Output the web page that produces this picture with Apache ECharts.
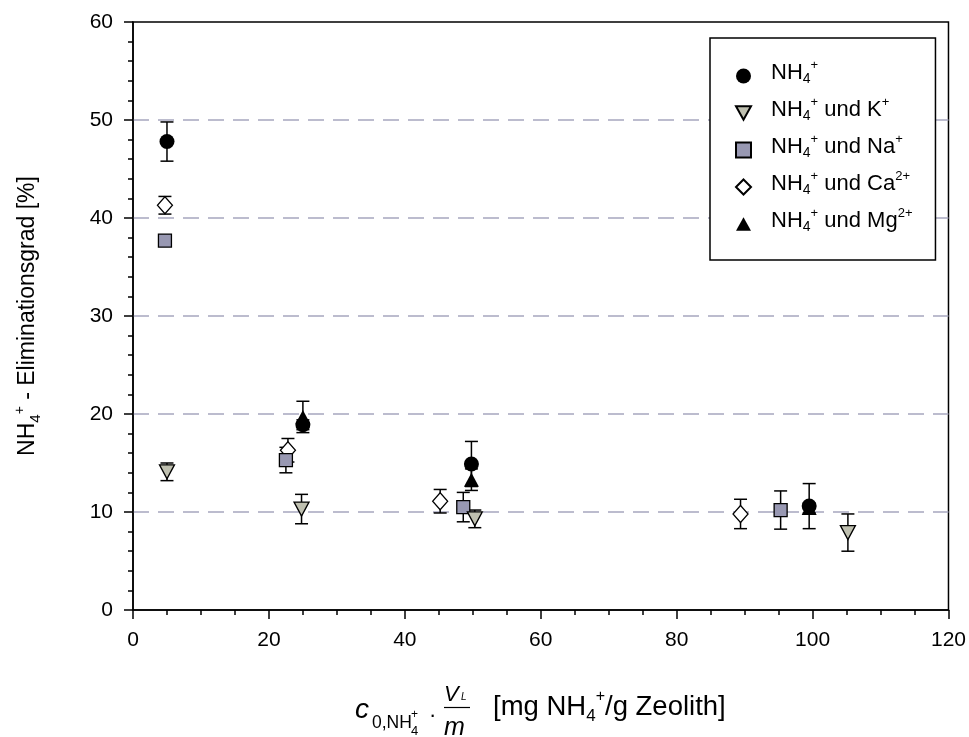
<!DOCTYPE html>
<html><head><meta charset="utf-8">
<script src="https://cdn.jsdelivr.net/npm/echarts@6/dist/echarts.min.js"></script>
<style>html,body{margin:0;padding:0;background:#fff}#c{width:969px;height:737px}</style>
</head><body><div id="c"></div>
<script>
// ---- data ----
const seriesNames = ['NH4+', 'NH4+ und K+', 'NH4+ und Na+', 'NH4+ und Ca2+', 'NH4+ und Mg2+'];
const nh4X = [5, 25, 49.8, 99.5];
const nh4Y = [47.8, 18.9, 14.9, 10.6];
const nh4Err = [2.0, 0.5, 2.3, 2.3];
const kX = [5, 24.8, 50.3, 105.2];
const kY = [14.1, 10.3, 9.3, 7.9];
const kErr = [0.9, 1.5, 0.9, 1.9];
const naX = [4.7, 22.5, 48.6, 95.3];
const naY = [37.7, 15.3, 10.5, 10.2];
const naErr = [0.3, 1.3, 1.5, 1.95];
const caX = [4.7, 22.8, 45.2, 89.4];
const caY = [41.3, 16.3, 11.1, 9.8];
const caErr = [0.9, 1.2, 1.2, 1.5];
const mgX = [25, 49.8, 99.5];
const mgY = [19.7, 13.3, 10.4];
const mgErr = [1.6, 1.1, 0.5];
const xRange = [0, 120, 20];
const yRange = [0, 60, 10];

const FF = '"Liberation Sans", Arial, sans-serif';
const chart = echarts.init(document.getElementById('c'), null, {renderer: 'canvas'});

function richName(name) {
  const parts = name.split(' und ');
  let s = '{n|NH}{sub|4}{sup|+}';
  if (parts.length > 1) {
    const m = parts[1].match(/^([A-Za-z]+)(\d*\+)$/);
    s += '{n| und ' + m[1] + '}{sup|' + m[2] + '}';
  }
  return s;
}
function pts(xs, ys) { return xs.map((x, i) => [x, ys[i]]); }
function errPts(xs, ys, es) { return xs.map((x, i) => [x, ys[i], es[i]]); }
function errRender(params, api) {
  const x = api.value(0), y = api.value(1), e = api.value(2);
  const top = api.coord([x, y + e]), bot = api.coord([x, y - e]);
  const hw = 6.5;
  const st = {stroke: '#000', lineWidth: 1.5};
  return {type: 'group', children: [
    {type: 'line', shape: {x1: top[0], y1: top[1], x2: bot[0], y2: bot[1]}, style: st},
    {type: 'line', shape: {x1: top[0] - hw, y1: top[1], x2: top[0] + hw, y2: top[1]}, style: st},
    {type: 'line', shape: {x1: bot[0] - hw, y1: bot[1], x2: bot[0] + hw, y2: bot[1]}, style: st}
  ]};
}
function errSeries(id, xs, ys, es) {
  return {type: 'custom', name: id, renderItem: errRender, data: errPts(xs, ys, es),
    encode: {x: 0, y: 1}, z: 2, silent: true};
}
const downTri = 'path://M0,0 L20,0 L10,18 Z';
const upTri = 'path://M10,0 L20,18 L0,18 Z';

const option = {
  animation: false,
  backgroundColor: '#fff',
  grid: {left: 133, right: 20, top: 22, bottom: 127, show: true, borderColor: '#000', borderWidth: 1.5, backgroundColor: 'transparent'},
  xAxis: {
    type: 'value', min: xRange[0], max: xRange[1], interval: xRange[2],
    axisLine: {show: true, onZero: false, lineStyle: {color: '#000', width: 1.5}},
    axisTick: {show: true, length: 9, lineStyle: {color: '#000', width: 1.5}},
    minorTick: {show: true, splitNumber: 4, length: 5, lineStyle: {color: '#000', width: 1.5}},
    axisLabel: {color: '#000', fontSize: 21, fontFamily: FF, margin: 20},
    splitLine: {show: false}
  },
  yAxis: {
    type: 'value', min: yRange[0], max: yRange[1], interval: yRange[2],
    axisLine: {show: true, onZero: false, lineStyle: {color: '#000', width: 1.5}},
    axisTick: {show: true, length: 9, lineStyle: {color: '#000', width: 1.5}},
    minorTick: {show: true, splitNumber: 5, length: 5, lineStyle: {color: '#000', width: 1.5}},
    axisLabel: {color: '#000', fontSize: 21, fontFamily: FF, margin: 20},
    splitLine: {show: true, showMinLine: false, showMaxLine: false, lineStyle: {color: '#a6a6be', width: 1.5, type: [16, 9]}},
    name: '{n|NH}{sub|4}{sup|+}{n| - Eliminationsgrad [%]}',
    nameLocation: 'middle', nameRotate: 90, nameGap: 90,
    nameTextStyle: {
      color: '#000',
      rich: {
        n: {fontSize: 23, fontFamily: FF, color: '#000', lineHeight: 30},
        sub: {fontSize: 15, fontFamily: FF, color: '#000', lineHeight: 14, verticalAlign: 'bottom'},
        sup: {fontSize: 14, fontFamily: FF, color: '#000', lineHeight: 13, verticalAlign: 'top'}
      }
    }
  },
  legend: {
    data: seriesNames,
    orient: 'vertical', left: 710, top: 38,
    padding: [21, 23, 26, 25], itemGap: 10,
    itemWidth: 15, itemHeight: 15,
    backgroundColor: '#fff', borderColor: '#000', borderWidth: 1.5, borderRadius: 0,
    selectedMode: false,
    formatter: richName,
    textStyle: {
      padding: [0, 0, 7, 15],
      color: '#000',
      rich: {
        n: {fontSize: 22, fontFamily: FF, color: '#000', lineHeight: 27},
        sub: {fontSize: 14, fontFamily: FF, color: '#000', lineHeight: 8, verticalAlign: 'bottom'},
        sup: {fontSize: 13, fontFamily: FF, color: '#000', lineHeight: 12, verticalAlign: 'top'}
      }
    }
  },
  graphic: [
    {type: 'text', x: 355, y: 710, style: {text: 'c', fontSize: 28, fontStyle: 'italic', fontFamily: FF, fill: '#000', textVerticalAlign: 'middle'}},
    {type: 'text', x: 372, y: 723, style: {text: '0,NH', fontSize: 17.5, fontFamily: FF, fill: '#000', textVerticalAlign: 'middle'}},
    {type: 'text', x: 411, y: 731, style: {text: '4', fontSize: 13, fontFamily: FF, fill: '#000', textVerticalAlign: 'middle'}},
    {type: 'text', x: 411, y: 715, style: {text: '+', fontSize: 12, fontFamily: FF, fill: '#000', textVerticalAlign: 'middle'}},
    {type: 'text', x: 429, y: 716, style: {text: '·', fontSize: 22, fontFamily: FF, fill: '#000', textVerticalAlign: 'middle'}},
    {type: 'text', x: 444, y: 695, style: {text: 'V', fontSize: 22, fontStyle: 'italic', fontFamily: FF, fill: '#000', textVerticalAlign: 'middle'}},
    {type: 'text', x: 461, y: 697, style: {text: 'L', fontSize: 10, fontStyle: 'italic', fontFamily: FF, fill: '#000', textVerticalAlign: 'middle'}},
    {type: 'line', shape: {x1: 444, y1: 707.5, x2: 470, y2: 707.5}, style: {stroke: '#000', lineWidth: 1.2}},
    {type: 'text', x: 444, y: 728, style: {text: 'm', fontSize: 25, fontStyle: 'italic', fontFamily: FF, fill: '#000', textVerticalAlign: 'middle'}},
    {type: 'text', x: 493, y: 707, style: {
      text: '{n|[mg NH}{sub|4}{sup|+}{n|/g Zeolith]}', fill: '#000', textVerticalAlign: 'middle',
      rich: {
        n: {fontSize: 27.5, fontFamily: FF, fill: '#000', lineHeight: 36},
        sub: {fontSize: 17, fontFamily: FF, fill: '#000', lineHeight: 14, verticalAlign: 'bottom'},
        sup: {fontSize: 16, fontFamily: FF, fill: '#000', lineHeight: 14, verticalAlign: 'top'}
      }}}
  ],
  series: [
    errSeries('eCa', caX, caY, caErr),
    {type: 'scatter', name: seriesNames[3], data: pts(caX, caY), symbol: 'diamond', symbolSize: [15, 17], z: 3,
      itemStyle: {color: '#fff', borderColor: '#000', borderWidth: 1.3, opacity: 1}},
    errSeries('eNa', naX, naY, naErr),
    {type: 'scatter', name: seriesNames[2], data: pts(naX, naY), symbol: 'rect', symbolSize: 13, z: 3,
      itemStyle: {color: '#9898b2', borderColor: '#000', borderWidth: 1.3, opacity: 1}},
    errSeries('eK', kX, kY, kErr),
    {type: 'scatter', name: seriesNames[1], data: pts(kX, kY), symbol: downTri, symbolSize: [15, 14], z: 3,
      itemStyle: {color: '#bfc0b0', borderColor: '#000', borderWidth: 1.3, opacity: 1}},
    errSeries('eNH', nh4X, nh4Y, nh4Err),
    {type: 'scatter', name: seriesNames[0], data: pts(nh4X, nh4Y), symbol: 'circle', symbolSize: 15, z: 3,
      itemStyle: {color: '#000', borderColor: '#000', borderWidth: 0, opacity: 1}},
    errSeries('eMg', mgX, mgY, mgErr),
    {type: 'scatter', name: seriesNames[4], data: pts(mgX, mgY), symbol: upTri, symbolSize: [15, 14], z: 3,
      itemStyle: {color: '#000', borderColor: '#000', borderWidth: 0, opacity: 1}}
  ]
};
chart.setOption(option);
</script>
</body></html>
